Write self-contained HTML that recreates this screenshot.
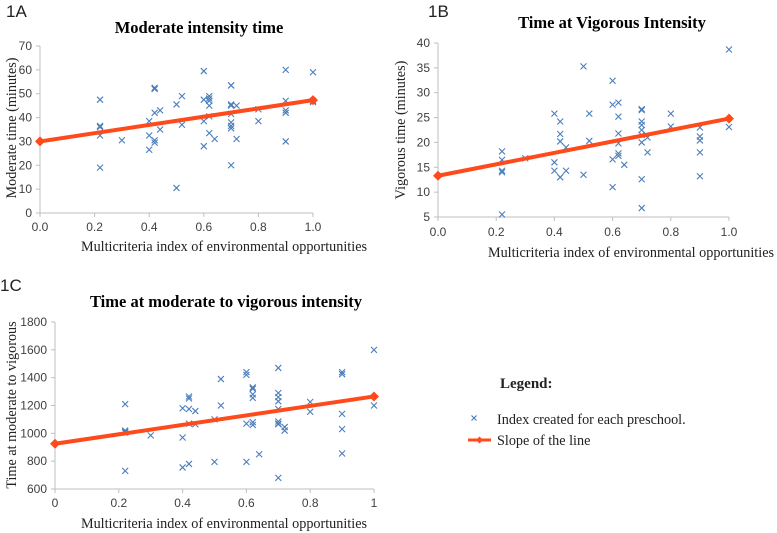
<!DOCTYPE html>
<html><head><meta charset="utf-8">
<style>
body{margin:0;background:#fff;width:777px;height:533px;overflow:hidden}
svg{display:block}
.tk{font-family:"Liberation Sans",sans-serif;font-size:12px;fill:#404040}
.tt{font-family:"Liberation Serif",serif;font-weight:bold;font-size:16.5px;fill:#000}
.at{font-family:"Liberation Serif",serif;font-size:14.2px;fill:#222}
.pl{font-family:"Liberation Sans",sans-serif;font-size:17px;fill:#222}
</style></head><body>
<svg id="c" width="777" height="533" xmlns="http://www.w3.org/2000/svg">
<text class="pl" x="6" y="17">1A</text>
<text class="tt" x="199" y="33" text-anchor="middle">Moderate intensity time</text>
<text class="pl" x="428" y="17">1B</text>
<text class="tt" x="612" y="28" text-anchor="middle">Time at Vigorous Intensity</text>
<text class="pl" x="0" y="291">1C</text>
<text class="tt" x="226" y="307" text-anchor="middle">Time at moderate to vigorous intensity</text>
<text class="at" x="224" y="251" text-anchor="middle">Multicriteria  index  of  environmental  opportunities</text>
<text class="at" x="631" y="257" text-anchor="middle">Multicriteria  index  of  environmental  opportunities</text>
<text class="at" x="224" y="528" text-anchor="middle">Multicriteria  index  of  environmental  opportunities</text>
<text class="at" transform="translate(16,128) rotate(-90)" text-anchor="middle">Moderate time  (minutes)</text>
<text class="at" transform="translate(405,130) rotate(-90)" text-anchor="middle">Vigorous  time  (minutes)</text>
<text class="at" transform="translate(16,405) rotate(-90)" text-anchor="middle">Time  at moderate to vigorous</text>
<g>
<text class="at" x="500" y="388" style="font-weight:bold;font-size:15px">Legend:</text>
<g>
<path d="M471.5,415.5l5,5M476.5,415.5l-5,5" stroke="#4a7ebb" stroke-width="1.2"/>
<text class="at" x="497" y="424">Index  created  for each preschool.</text></g>
<g>
<line x1="468" y1="440" x2="491" y2="440" stroke="#ff4a1c" stroke-width="3"/>
<path d="M479.5,436.5l3.5,3.5l-3.5,3.5l-3.5,-3.5z" fill="#ff4a1c"/>
<text class="at" x="497" y="445">Slope of the line</text></g>
</g>
</svg>
<script>
// Panel A data
const xA=[0.22,0.22,0.22,0.22,0.22,0.3,0.4,0.4,0.4,0.42,0.42,0.42,0.42,0.42,0.44,0.44,0.5,0.5,0.52,0.52,0.6,0.6,0.6,0.6,0.62,0.62,0.62,0.62,0.62,0.62,0.64,0.7,0.7,0.7,0.7,0.7,0.7,0.7,0.7,0.7,0.72,0.72,0.8,0.8,0.9,0.9,0.9,0.9,0.9,1.0,1.0,1.0];
const yA=[47.5,36.5,36,32.5,19,30.5,38.5,32.5,26.5,52.5,52,42,30.5,29.5,43,35,45.5,10.5,49,37,59.5,47.5,38.5,28,49,48,47,45,40.5,33.5,31,53.5,53.5,45.5,45,41.5,38,36.5,35.5,20,45,31,43.5,38.5,60,47,43,42,30,59,47,46.5];
const lineA=[30,47.3];
const yTicksA=[0,10,20,30,40,50,60,70];
const xTicksA=["0.0","0.2","0.4","0.6","0.8","1.0"];
// Panel B data
const xB=[0.22,0.22,0.22,0.22,0.22,0.3,0.4,0.4,0.4,0.42,0.42,0.42,0.42,0.42,0.44,0.44,0.5,0.5,0.52,0.52,0.6,0.6,0.6,0.6,0.62,0.62,0.62,0.62,0.62,0.62,0.64,0.7,0.7,0.7,0.7,0.7,0.7,0.7,0.7,0.7,0.72,0.72,0.8,0.8,0.9,0.9,0.9,0.9,0.9,1.0,1.0];
const yB=[18.2,16.5,14.3,14,5.5,16.8,25.8,16,14.3,24.2,21.7,20.2,13,13,19,14.3,35.3,13.5,25.8,20.3,32.4,27.6,16.6,11,28,25.2,21.8,19.8,17.8,17.3,15.5,26.7,26.5,24.2,23.5,22.5,21.5,20,12.6,6.8,21,18,25.8,23.2,23,21.2,20.4,18,13.2,38.7,23.1];
const lineB=[13.3,24.8];
const yTicksB=[5,10,15,20,25,30,35,40];
const xTicksB=["0.0","0.2","0.4","0.6","0.8","1.0"];
// Panel C data
const xC=[0.22,0.22,0.22,0.22,0.22,0.3,0.4,0.4,0.4,0.42,0.42,0.42,0.42,0.42,0.44,0.44,0.5,0.5,0.52,0.52,0.6,0.6,0.6,0.6,0.62,0.62,0.62,0.62,0.62,0.62,0.64,0.7,0.7,0.7,0.7,0.7,0.7,0.7,0.7,0.7,0.72,0.72,0.8,0.8,0.9,0.9,0.9,0.9,0.9,1.0,1.0];
const yC=[1210,1020,1010,1005,730,985,1180,970,755,1265,1250,1175,1070,780,1160,1065,1100,795,1390,1200,1440,1420,1070,795,1330,1320,1280,1255,1080,1060,850,1470,1290,1260,1230,1175,1085,1070,1065,680,1045,1020,1225,1155,1440,1425,1140,1030,855,1600,1200];
const lineC=[925,1265];
const yTicksC=[600,800,1000,1200,1400,1600,1800];
const xTicksC=["0","0.2","0.4","0.6","0.8","1"];

const svg=document.getElementById('c');
const NS='http://www.w3.org/2000/svg';
function mk(t,a){const e=document.createElementNS(NS,t);for(const k in a)e.setAttribute(k,a[k]);svg.appendChild(e);return e;}
function panel(id,px0,px1,py0,py1,ymin,ymax,xs,ys,line,yt,xt,tickY){
  const sx=v=>px0+(px1-px0)*v;
  const sy=v=>py0-(py0-py1)*(v-ymin)/(ymax-ymin);
  let e=mk('line',{x1:px0,y1:py1,x2:px0,y2:py0,stroke:'#bfbfbf'});
  
  
  e=mk('line',{x1:px0,y1:py0,x2:px1,y2:py0,stroke:'#bfbfbf'});
  
  
  yt.forEach(v=>{
    mk('line',{x1:px0-4,x2:px0,y1:sy(v),y2:sy(v),stroke:'#bfbfbf'});
    const t=mk('text',{x:px0-8,y:sy(v)+4,'text-anchor':'end',class:'tk'});t.textContent=v;
    
    
  });
  xt.forEach((s,i)=>{
    const x=sx(i/(xt.length-1));
    mk('line',{x1:x,x2:x,y1:py0,y2:py0+4,stroke:'#bfbfbf'});
    const t=mk('text',{x:x,y:tickY,'text-anchor':'middle',class:'tk'});t.textContent=s;
    
    
  });
  xs.forEach((xv,i)=>{
    const x=sx(xv),y=sy(ys[i]);
    const p=mk('path',{d:`M${x-3},${y-3}L${x+3},${y+3}M${x+3},${y-3}L${x-3},${y+3}`,stroke:'#4a7ebb','stroke-width':1.1,fill:'none'});
    
    
  });
  const l=mk('line',{x1:sx(0),y1:sy(line[0]),x2:sx(1),y2:sy(line[1]),stroke:'#ff4a1c','stroke-width':4});
  
  
  [[0,line[0]],[1,line[1]]].forEach(([a,b])=>{
    const x=sx(a),y=sy(b);
    const d=mk('path',{d:`M${x},${y-5}L${x+5},${y}L${x},${y+5}L${x-5},${y}Z`,fill:'#ff4a1c'});
    
    
  });
}
panel('1a',40,313,213,46,0,70,xA,yA,lineA,yTicksA,xTicksA,231);
panel('1b',438,729,217,43,5,40,xB,yB,lineB,yTicksB,xTicksB,236);
panel('1c',55,374,489,322,600,1800,xC,yC,lineC,yTicksC,xTicksC,507);
</script>
</body></html>
